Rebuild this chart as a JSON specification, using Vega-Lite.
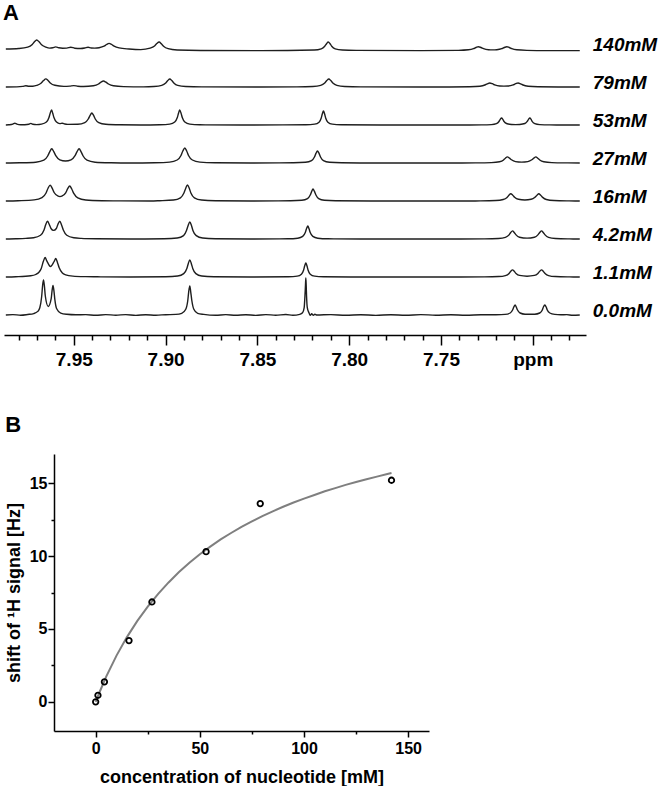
{
  "$schema": "https://vega.github.io/schema/vega-lite/v6.json",
  "background": "white",
  "padding": {"left": 3, "top": 2, "right": 0, "bottom": 0},
  "config": {
    "view": {"stroke": null},
    "font": "Liberation Sans",
    "axis": {"grid": false, "domainColor": "black", "tickColor": "black", "labelColor": "black", "titleColor": "black", "labelFont": "Liberation Sans", "titleFont": "Liberation Sans", "labelFontWeight": "bold", "titleFontWeight": "bold", "domainWidth": 1.5, "tickWidth": 1.5},
    "title": {"font": "Liberation Sans", "fontWeight": "bold", "color": "black", "anchor": "start"}
  },
  "spacing": 45,
  "datasets": {
    "spectra": [
      {"c":"0.0mM","p":7.9870,"v":0},{"c":"0.0mM","p":7.9832,"v":0.4},{"c":"0.0mM","p":7.9789,"v":-0.2},{"c":"0.0mM","p":7.9751,"v":0.5},{"c":"0.0mM","p":7.9718,"v":1.4},{"c":"0.0mM","p":7.9696,"v":3.6},{"c":"0.0mM","p":7.9685,"v":7.2},{"c":"0.0mM","p":7.9675,"v":18.2},{"c":"0.0mM","p":7.9670,"v":28.8},{"c":"0.0mM","p":7.9665,"v":35},{"c":"0.0mM","p":7.9660,"v":29.2},{"c":"0.0mM","p":7.9655,"v":19.0},{"c":"0.0mM","p":7.9639,"v":8.5},{"c":"0.0mM","p":7.9623,"v":16.3},{"c":"0.0mM","p":7.9618,"v":24.6},{"c":"0.0mM","p":7.9613,"v":29.5},{"c":"0.0mM","p":7.9608,"v":24.2},{"c":"0.0mM","p":7.9603,"v":15.4},{"c":"0.0mM","p":7.9593,"v":6.2},{"c":"0.0mM","p":7.9571,"v":1.9},{"c":"0.0mM","p":7.9538,"v":0.7},{"c":"0.0mM","p":7.9489,"v":0.2},{"c":"0.0mM","p":7.9435,"v":0.4},{"c":"0.0mM","p":7.9380,"v":-0.3},{"c":"0.0mM","p":7.9326,"v":0.4},{"c":"0.0mM","p":7.9271,"v":-0.2},{"c":"0.0mM","p":7.9217,"v":0.4},{"c":"0.0mM","p":7.9162,"v":-0.4},{"c":"0.0mM","p":7.9108,"v":0.3},{"c":"0.0mM","p":7.9053,"v":-0.2},{"c":"0.0mM","p":7.8999,"v":0.3},{"c":"0.0mM","p":7.8944,"v":0.6},{"c":"0.0mM","p":7.8912,"v":1.7},{"c":"0.0mM","p":7.8890,"v":5.8},{"c":"0.0mM","p":7.8879,"v":14.5},{"c":"0.0mM","p":7.8874,"v":23.2},{"c":"0.0mM","p":7.8868,"v":29},{"c":"0.0mM","p":7.8863,"v":23.2},{"c":"0.0mM","p":7.8857,"v":14.5},{"c":"0.0mM","p":7.8846,"v":5.8},{"c":"0.0mM","p":7.8825,"v":1.7},{"c":"0.0mM","p":7.8792,"v":0.6},{"c":"0.0mM","p":7.8727,"v":-0.3},{"c":"0.0mM","p":7.8672,"v":0.4},{"c":"0.0mM","p":7.8618,"v":-0.3},{"c":"0.0mM","p":7.8563,"v":0.3},{"c":"0.0mM","p":7.8509,"v":-0.4},{"c":"0.0mM","p":7.8454,"v":0.4},{"c":"0.0mM","p":7.8400,"v":-0.2},{"c":"0.0mM","p":7.8345,"v":0.5},{"c":"0.0mM","p":7.8307,"v":-0.3},{"c":"0.0mM","p":7.8269,"v":0.65},{"c":"0.0mM","p":7.8254,"v":2.2},{"c":"0.0mM","p":7.8245,"v":7.4},{"c":"0.0mM","p":7.8241,"v":18.5},{"c":"0.0mM","p":7.8238,"v":29.6},{"c":"0.0mM","p":7.8236,"v":37},{"c":"0.0mM","p":7.8234,"v":29.6},{"c":"0.0mM","p":7.8232,"v":18.5},{"c":"0.0mM","p":7.8228,"v":7.4},{"c":"0.0mM","p":7.8219,"v":2.2},{"c":"0.0mM","p":7.8212,"v":-0.4},{"c":"0.0mM","p":7.8204,"v":1.2},{"c":"0.0mM","p":7.8195,"v":-0.3},{"c":"0.0mM","p":7.8187,"v":0.8},{"c":"0.0mM","p":7.8176,"v":0},{"c":"0.0mM","p":7.8100,"v":0.4},{"c":"0.0mM","p":7.8018,"v":-0.3},{"c":"0.0mM","p":7.7937,"v":0.3},{"c":"0.0mM","p":7.7855,"v":-0.4},{"c":"0.0mM","p":7.7773,"v":0.3},{"c":"0.0mM","p":7.7692,"v":-0.3},{"c":"0.0mM","p":7.7610,"v":0.4},{"c":"0.0mM","p":7.7528,"v":-0.2},{"c":"0.0mM","p":7.7446,"v":0.3},{"c":"0.0mM","p":7.7365,"v":-0.3},{"c":"0.0mM","p":7.7283,"v":0.2},{"c":"0.0mM","p":7.7201,"v":0.3},{"c":"0.0mM","p":7.7151,"v":0.6},{"c":"0.0mM","p":7.7123,"v":2},{"c":"0.0mM","p":7.7110,"v":5},{"c":"0.0mM","p":7.7103,"v":8},{"c":"0.0mM","p":7.7096,"v":10},{"c":"0.0mM","p":7.7090,"v":8},{"c":"0.0mM","p":7.7083,"v":5},{"c":"0.0mM","p":7.7069,"v":2},{"c":"0.0mM","p":7.7042,"v":0.8},{"c":"0.0mM","p":7.7016,"v":0.8},{"c":"0.0mM","p":7.6989,"v":0.8},{"c":"0.0mM","p":7.6962,"v":2},{"c":"0.0mM","p":7.6948,"v":5},{"c":"0.0mM","p":7.6942,"v":8},{"c":"0.0mM","p":7.6934,"v":10},{"c":"0.0mM","p":7.6927,"v":8},{"c":"0.0mM","p":7.6921,"v":5},{"c":"0.0mM","p":7.6907,"v":2},{"c":"0.0mM","p":7.6880,"v":0.6},{"c":"0.0mM","p":7.6847,"v":0.2},{"c":"0.0mM","p":7.6815,"v":0.4},{"c":"0.0mM","p":7.6782,"v":-0.3},{"c":"0.0mM","p":7.6744,"v":0},
      {"c":"1.1mM","p":7.9870,"v":0},{"c":"1.1mM","p":7.9816,"v":0.3},{"c":"1.1mM","p":7.9734,"v":1.2},{"c":"1.1mM","p":7.9707,"v":2.5},{"c":"1.1mM","p":7.9691,"v":4.5},{"c":"1.1mM","p":7.9677,"v":8.6},{"c":"1.1mM","p":7.9666,"v":15.4},{"c":"1.1mM","p":7.9656,"v":19.5},{"c":"1.1mM","p":7.9647,"v":16.2},{"c":"1.1mM","p":7.9627,"v":10.5},{"c":"1.1mM","p":7.9607,"v":15.5},{"c":"1.1mM","p":7.9598,"v":18.6},{"c":"1.1mM","p":7.9589,"v":14.6},{"c":"1.1mM","p":7.9580,"v":9.5},{"c":"1.1mM","p":7.9562,"v":4.0},{"c":"1.1mM","p":7.9544,"v":2.2},{"c":"1.1mM","p":7.9505,"v":0.9},{"c":"1.1mM","p":7.9435,"v":0.35},{"c":"1.1mM","p":7.9353,"v":0.15},{"c":"1.1mM","p":7.9190,"v":0},{"c":"1.1mM","p":7.8999,"v":0.26},{"c":"1.1mM","p":7.8934,"v":1.0},{"c":"1.1mM","p":7.8901,"v":3.4},{"c":"1.1mM","p":7.8884,"v":8.5},{"c":"1.1mM","p":7.8876,"v":13.6},{"c":"1.1mM","p":7.8868,"v":17},{"c":"1.1mM","p":7.8860,"v":13.6},{"c":"1.1mM","p":7.8852,"v":8.5},{"c":"1.1mM","p":7.8835,"v":3.4},{"c":"1.1mM","p":7.8803,"v":1.0},{"c":"1.1mM","p":7.8737,"v":0.26},{"c":"1.1mM","p":7.8536,"v":0},{"c":"1.1mM","p":7.8331,"v":0.22},{"c":"1.1mM","p":7.8283,"v":0.82},{"c":"1.1mM","p":7.8260,"v":2.8},{"c":"1.1mM","p":7.8248,"v":7},{"c":"1.1mM","p":7.8242,"v":11.2},{"c":"1.1mM","p":7.8236,"v":14},{"c":"1.1mM","p":7.8230,"v":11.2},{"c":"1.1mM","p":7.8224,"v":7},{"c":"1.1mM","p":7.8212,"v":2.8},{"c":"1.1mM","p":7.8188,"v":0.82},{"c":"1.1mM","p":7.8140,"v":0.22},{"c":"1.1mM","p":7.7991,"v":0},{"c":"1.1mM","p":7.7392,"v":0},{"c":"1.1mM","p":7.7263,"v":0.1},{"c":"1.1mM","p":7.7187,"v":0.45},{"c":"1.1mM","p":7.7149,"v":1.45},{"c":"1.1mM","p":7.7129,"v":3.6},{"c":"1.1mM","p":7.7120,"v":5.7},{"c":"1.1mM","p":7.7110,"v":7.1},{"c":"1.1mM","p":7.7101,"v":5.7},{"c":"1.1mM","p":7.7091,"v":3.6},{"c":"1.1mM","p":7.7072,"v":1.6},{"c":"1.1mM","p":7.7031,"v":0.8},{"c":"1.1mM","p":7.6991,"v":1.6},{"c":"1.1mM","p":7.6972,"v":3.6},{"c":"1.1mM","p":7.6962,"v":5.7},{"c":"1.1mM","p":7.6952,"v":7.1},{"c":"1.1mM","p":7.6943,"v":5.7},{"c":"1.1mM","p":7.6933,"v":3.6},{"c":"1.1mM","p":7.6914,"v":1.45},{"c":"1.1mM","p":7.6876,"v":0.45},{"c":"1.1mM","p":7.6800,"v":0.1},{"c":"1.1mM","p":7.6744,"v":0},
      {"c":"4.2mM","p":7.9870,"v":0},{"c":"4.2mM","p":7.9816,"v":0.2},{"c":"4.2mM","p":7.9761,"v":0.6},{"c":"4.2mM","p":7.9719,"v":1.26},{"c":"4.2mM","p":7.9681,"v":3.8},{"c":"4.2mM","p":7.9662,"v":9.0},{"c":"4.2mM","p":7.9653,"v":14.2},{"c":"4.2mM","p":7.9643,"v":17.7},{"c":"4.2mM","p":7.9634,"v":14.8},{"c":"4.2mM","p":7.9624,"v":10.5},{"c":"4.2mM","p":7.9610,"v":8.6},{"c":"4.2mM","p":7.9595,"v":10.5},{"c":"4.2mM","p":7.9586,"v":14.8},{"c":"4.2mM","p":7.9576,"v":17.7},{"c":"4.2mM","p":7.9567,"v":14.2},{"c":"4.2mM","p":7.9557,"v":9.0},{"c":"4.2mM","p":7.9538,"v":3.8},{"c":"4.2mM","p":7.9500,"v":1.26},{"c":"4.2mM","p":7.9460,"v":0.6},{"c":"4.2mM","p":7.9380,"v":0.2},{"c":"4.2mM","p":7.9190,"v":0},{"c":"4.2mM","p":7.9007,"v":0.26},{"c":"4.2mM","p":7.8937,"v":1.0},{"c":"4.2mM","p":7.8902,"v":3.4},{"c":"4.2mM","p":7.8886,"v":8.5},{"c":"4.2mM","p":7.8877,"v":13.6},{"c":"4.2mM","p":7.8868,"v":17},{"c":"4.2mM","p":7.8859,"v":13.6},{"c":"4.2mM","p":7.8851,"v":8.5},{"c":"4.2mM","p":7.8833,"v":3.4},{"c":"4.2mM","p":7.8798,"v":1.0},{"c":"4.2mM","p":7.8729,"v":0.26},{"c":"4.2mM","p":7.8536,"v":0},{"c":"4.2mM","p":7.8334,"v":0.2},{"c":"4.2mM","p":7.8280,"v":0.77},{"c":"4.2mM","p":7.8253,"v":2.6},{"c":"4.2mM","p":7.8239,"v":6.5},{"c":"4.2mM","p":7.8232,"v":10.4},{"c":"4.2mM","p":7.8225,"v":13},{"c":"4.2mM","p":7.8219,"v":10.4},{"c":"4.2mM","p":7.8212,"v":6.5},{"c":"4.2mM","p":7.8198,"v":2.6},{"c":"4.2mM","p":7.8171,"v":0.77},{"c":"4.2mM","p":7.8116,"v":0.2},{"c":"4.2mM","p":7.7937,"v":0},{"c":"4.2mM","p":7.7392,"v":0},{"c":"4.2mM","p":7.7263,"v":0.1},{"c":"4.2mM","p":7.7187,"v":0.5},{"c":"4.2mM","p":7.7149,"v":1.65},{"c":"4.2mM","p":7.7129,"v":4.1},{"c":"4.2mM","p":7.7120,"v":6.5},{"c":"4.2mM","p":7.7110,"v":8.1},{"c":"4.2mM","p":7.7101,"v":6.5},{"c":"4.2mM","p":7.7091,"v":4.1},{"c":"4.2mM","p":7.7072,"v":1.8},{"c":"4.2mM","p":7.7031,"v":0.9},{"c":"4.2mM","p":7.6991,"v":1.8},{"c":"4.2mM","p":7.6972,"v":4.1},{"c":"4.2mM","p":7.6962,"v":6.5},{"c":"4.2mM","p":7.6952,"v":8.1},{"c":"4.2mM","p":7.6943,"v":6.5},{"c":"4.2mM","p":7.6933,"v":4.1},{"c":"4.2mM","p":7.6914,"v":1.65},{"c":"4.2mM","p":7.6876,"v":0.5},{"c":"4.2mM","p":7.6800,"v":0.1},{"c":"4.2mM","p":7.6744,"v":0},
      {"c":"16mM","p":7.9870,"v":0},{"c":"16mM","p":7.9803,"v":0.3},{"c":"16mM","p":7.9716,"v":1.1},{"c":"16mM","p":7.9673,"v":3.35},{"c":"16mM","p":7.9651,"v":8.05},{"c":"16mM","p":7.9640,"v":12.7},{"c":"16mM","p":7.9629,"v":15.9},{"c":"16mM","p":7.9618,"v":12.9},{"c":"16mM","p":7.9607,"v":8.5},{"c":"16mM","p":7.9585,"v":4.8},{"c":"16mM","p":7.9575,"v":4.4},{"c":"16mM","p":7.9565,"v":4.8},{"c":"16mM","p":7.9544,"v":8.1},{"c":"16mM","p":7.9533,"v":12.3},{"c":"16mM","p":7.9522,"v":15.0},{"c":"16mM","p":7.9511,"v":12.0},{"c":"16mM","p":7.9500,"v":7.6},{"c":"16mM","p":7.9478,"v":3.2},{"c":"16mM","p":7.9435,"v":1.04},{"c":"16mM","p":7.9347,"v":0.3},{"c":"16mM","p":7.9244,"v":0.1},{"c":"16mM","p":7.9081,"v":0},{"c":"16mM","p":7.9033,"v":0.25},{"c":"16mM","p":7.8957,"v":0.94},{"c":"16mM","p":7.8919,"v":3.2},{"c":"16mM","p":7.8900,"v":8},{"c":"16mM","p":7.8890,"v":12.8},{"c":"16mM","p":7.8881,"v":16},{"c":"16mM","p":7.8871,"v":12.8},{"c":"16mM","p":7.8862,"v":8},{"c":"16mM","p":7.8843,"v":3.2},{"c":"16mM","p":7.8804,"v":0.94},{"c":"16mM","p":7.8728,"v":0.25},{"c":"16mM","p":7.8536,"v":0},{"c":"16mM","p":7.8319,"v":0.18},{"c":"16mM","p":7.8258,"v":0.7},{"c":"16mM","p":7.8227,"v":2.4},{"c":"16mM","p":7.8212,"v":6},{"c":"16mM","p":7.8204,"v":9.6},{"c":"16mM","p":7.8197,"v":12},{"c":"16mM","p":7.8189,"v":9.6},{"c":"16mM","p":7.8181,"v":6},{"c":"16mM","p":7.8166,"v":2.4},{"c":"16mM","p":7.8135,"v":0.7},{"c":"16mM","p":7.8074,"v":0.18},{"c":"16mM","p":7.7882,"v":0},{"c":"16mM","p":7.7392,"v":0},{"c":"16mM","p":7.7285,"v":0.1},{"c":"16mM","p":7.7202,"v":0.45},{"c":"16mM","p":7.7161,"v":1.5},{"c":"16mM","p":7.7140,"v":3.6},{"c":"16mM","p":7.7130,"v":5.7},{"c":"16mM","p":7.7120,"v":7.2},{"c":"16mM","p":7.7109,"v":5.8},{"c":"16mM","p":7.7099,"v":3.8},{"c":"16mM","p":7.7078,"v":1.7},{"c":"16mM","p":7.7043,"v":1.0},{"c":"16mM","p":7.7009,"v":1.7},{"c":"16mM","p":7.6988,"v":3.8},{"c":"16mM","p":7.6977,"v":5.8},{"c":"16mM","p":7.6967,"v":7.2},{"c":"16mM","p":7.6957,"v":5.7},{"c":"16mM","p":7.6946,"v":3.6},{"c":"16mM","p":7.6926,"v":1.5},{"c":"16mM","p":7.6884,"v":0.45},{"c":"16mM","p":7.6802,"v":0.1},{"c":"16mM","p":7.6744,"v":0},
      {"c":"27mM","p":7.9870,"v":0},{"c":"27mM","p":7.9794,"v":0.21},{"c":"27mM","p":7.9707,"v":0.82},{"c":"27mM","p":7.9663,"v":2.8},{"c":"27mM","p":7.9642,"v":7},{"c":"27mM","p":7.9631,"v":11.2},{"c":"27mM","p":7.9620,"v":14.2},{"c":"27mM","p":7.9609,"v":11.4},{"c":"27mM","p":7.9598,"v":7.3},{"c":"27mM","p":7.9576,"v":3.2},{"c":"27mM","p":7.9545,"v":2.0},{"c":"27mM","p":7.9515,"v":3.2},{"c":"27mM","p":7.9493,"v":7.3},{"c":"27mM","p":7.9482,"v":11.4},{"c":"27mM","p":7.9471,"v":14.2},{"c":"27mM","p":7.9460,"v":11.2},{"c":"27mM","p":7.9449,"v":7},{"c":"27mM","p":7.9428,"v":2.8},{"c":"27mM","p":7.9384,"v":0.82},{"c":"27mM","p":7.9297,"v":0.21},{"c":"27mM","p":7.9190,"v":0},{"c":"27mM","p":7.9061,"v":0.23},{"c":"27mM","p":7.8978,"v":0.88},{"c":"27mM","p":7.8937,"v":3},{"c":"27mM","p":7.8916,"v":7.5},{"c":"27mM","p":7.8906,"v":12},{"c":"27mM","p":7.8895,"v":15},{"c":"27mM","p":7.8885,"v":12},{"c":"27mM","p":7.8875,"v":7.5},{"c":"27mM","p":7.8854,"v":3},{"c":"27mM","p":7.8813,"v":0.88},{"c":"27mM","p":7.8730,"v":0.23},{"c":"27mM","p":7.8536,"v":0},{"c":"27mM","p":7.8303,"v":0.18},{"c":"27mM","p":7.8238,"v":0.7},{"c":"27mM","p":7.8205,"v":2.4},{"c":"27mM","p":7.8189,"v":6},{"c":"27mM","p":7.8181,"v":9.6},{"c":"27mM","p":7.8173,"v":12},{"c":"27mM","p":7.8164,"v":9.6},{"c":"27mM","p":7.8156,"v":6},{"c":"27mM","p":7.8140,"v":2.4},{"c":"27mM","p":7.8107,"v":0.7},{"c":"27mM","p":7.8042,"v":0.18},{"c":"27mM","p":7.7882,"v":0},{"c":"27mM","p":7.7446,"v":0},{"c":"27mM","p":7.7312,"v":0.09},{"c":"27mM","p":7.7225,"v":0.35},{"c":"27mM","p":7.7181,"v":1.2},{"c":"27mM","p":7.7159,"v":3.0},{"c":"27mM","p":7.7149,"v":4.8},{"c":"27mM","p":7.7138,"v":6.1},{"c":"27mM","p":7.7127,"v":4.9},{"c":"27mM","p":7.7116,"v":3.2},{"c":"27mM","p":7.7094,"v":1.4},{"c":"27mM","p":7.7061,"v":0.9},{"c":"27mM","p":7.7027,"v":1.4},{"c":"27mM","p":7.7005,"v":3.2},{"c":"27mM","p":7.6994,"v":4.9},{"c":"27mM","p":7.6983,"v":6.1},{"c":"27mM","p":7.6973,"v":4.8},{"c":"27mM","p":7.6962,"v":3.0},{"c":"27mM","p":7.6940,"v":1.2},{"c":"27mM","p":7.6896,"v":0.35},{"c":"27mM","p":7.6809,"v":0.09},{"c":"27mM","p":7.6744,"v":0},
      {"c":"53mM","p":7.9870,"v":0},{"c":"53mM","p":7.9854,"v":0.2},{"c":"53mM","p":7.9832,"v":0.9},{"c":"53mM","p":7.9821,"v":1.8},{"c":"53mM","p":7.9810,"v":0.9},{"c":"53mM","p":7.9789,"v":0.2},{"c":"53mM","p":7.9767,"v":0.3},{"c":"53mM","p":7.9745,"v":0.8},{"c":"53mM","p":7.9734,"v":1.6},{"c":"53mM","p":7.9723,"v":0.8},{"c":"53mM","p":7.9702,"v":0.4},{"c":"53mM","p":7.9676,"v":0.9},{"c":"53mM","p":7.9649,"v":3},{"c":"53mM","p":7.9635,"v":7.5},{"c":"53mM","p":7.9628,"v":12},{"c":"53mM","p":7.9621,"v":15},{"c":"53mM","p":7.9615,"v":12},{"c":"53mM","p":7.9608,"v":7.5},{"c":"53mM","p":7.9594,"v":3},{"c":"53mM","p":7.9576,"v":1.4},{"c":"53mM","p":7.9562,"v":1.8},{"c":"53mM","p":7.9549,"v":1.0},{"c":"53mM","p":7.9533,"v":0.6},{"c":"53mM","p":7.9478,"v":0.71},{"c":"53mM","p":7.9440,"v":2.4},{"c":"53mM","p":7.9421,"v":6},{"c":"53mM","p":7.9411,"v":9.6},{"c":"53mM","p":7.9402,"v":12},{"c":"53mM","p":7.9392,"v":9.6},{"c":"53mM","p":7.9383,"v":6},{"c":"53mM","p":7.9364,"v":2.4},{"c":"53mM","p":7.9326,"v":0.71},{"c":"53mM","p":7.9249,"v":0.18},{"c":"53mM","p":7.9135,"v":0},{"c":"53mM","p":7.9032,"v":0.23},{"c":"53mM","p":7.8977,"v":0.88},{"c":"53mM","p":7.8950,"v":3},{"c":"53mM","p":7.8936,"v":7.5},{"c":"53mM","p":7.8929,"v":12},{"c":"53mM","p":7.8923,"v":15},{"c":"53mM","p":7.8916,"v":12},{"c":"53mM","p":7.8909,"v":7.5},{"c":"53mM","p":7.8895,"v":3},{"c":"53mM","p":7.8868,"v":0.88},{"c":"53mM","p":7.8814,"v":0.23},{"c":"53mM","p":7.8590,"v":0},{"c":"53mM","p":7.8236,"v":0.21},{"c":"53mM","p":7.8188,"v":0.82},{"c":"53mM","p":7.8164,"v":2.8},{"c":"53mM","p":7.8152,"v":7},{"c":"53mM","p":7.8146,"v":11.2},{"c":"53mM","p":7.8140,"v":14},{"c":"53mM","p":7.8134,"v":11.2},{"c":"53mM","p":7.8128,"v":7},{"c":"53mM","p":7.8116,"v":2.8},{"c":"53mM","p":7.8092,"v":0.82},{"c":"53mM","p":7.8044,"v":0.21},{"c":"53mM","p":7.7828,"v":0},{"c":"53mM","p":7.7392,"v":0},{"c":"53mM","p":7.7279,"v":0.1},{"c":"53mM","p":7.7225,"v":0.41},{"c":"53mM","p":7.7198,"v":1.4},{"c":"53mM","p":7.7184,"v":3.5},{"c":"53mM","p":7.7177,"v":5.6},{"c":"53mM","p":7.7170,"v":7.05},{"c":"53mM","p":7.7163,"v":5.65},{"c":"53mM","p":7.7157,"v":3.6},{"c":"53mM","p":7.7143,"v":1.5},{"c":"53mM","p":7.7116,"v":0.55},{"c":"53mM","p":7.7093,"v":0.4},{"c":"53mM","p":7.7071,"v":0.55},{"c":"53mM","p":7.7043,"v":1.5},{"c":"53mM","p":7.7030,"v":3.6},{"c":"53mM","p":7.7023,"v":5.65},{"c":"53mM","p":7.7016,"v":7.05},{"c":"53mM","p":7.7009,"v":5.6},{"c":"53mM","p":7.7003,"v":3.5},{"c":"53mM","p":7.6989,"v":1.4},{"c":"53mM","p":7.6962,"v":0.41},{"c":"53mM","p":7.6907,"v":0.1},{"c":"53mM","p":7.6744,"v":0},
      {"c":"79mM","p":7.9870,"v":0},{"c":"79mM","p":7.9810,"v":0.13},{"c":"79mM","p":7.9778,"v":0.65},{"c":"79mM","p":7.9761,"v":1.3},{"c":"79mM","p":7.9745,"v":0.7},{"c":"79mM","p":7.9723,"v":0.8},{"c":"79mM","p":7.9702,"v":1.6},{"c":"79mM","p":7.9677,"v":4},{"c":"79mM","p":7.9665,"v":6.4},{"c":"79mM","p":7.9652,"v":8.1},{"c":"79mM","p":7.9640,"v":6.5},{"c":"79mM","p":7.9628,"v":4.1},{"c":"79mM","p":7.9603,"v":1.7},{"c":"79mM","p":7.9554,"v":0.6},{"c":"79mM","p":7.9522,"v":0.9},{"c":"79mM","p":7.9500,"v":1.4},{"c":"79mM","p":7.9478,"v":0.8},{"c":"79mM","p":7.9447,"v":0.5},{"c":"79mM","p":7.9393,"v":1.2},{"c":"79mM","p":7.9365,"v":3},{"c":"79mM","p":7.9352,"v":4.8},{"c":"79mM","p":7.9338,"v":6},{"c":"79mM","p":7.9325,"v":4.8},{"c":"79mM","p":7.9311,"v":3},{"c":"79mM","p":7.9284,"v":1.2},{"c":"79mM","p":7.9229,"v":0.35},{"c":"79mM","p":7.9120,"v":0.1},{"c":"79mM","p":7.9064,"v":0.47},{"c":"79mM","p":7.9021,"v":1.6},{"c":"79mM","p":7.8999,"v":4},{"c":"79mM","p":7.8988,"v":6.4},{"c":"79mM","p":7.8977,"v":8},{"c":"79mM","p":7.8966,"v":6.4},{"c":"79mM","p":7.8955,"v":4},{"c":"79mM","p":7.8934,"v":1.6},{"c":"79mM","p":7.8890,"v":0.47},{"c":"79mM","p":7.8803,"v":0.12},{"c":"79mM","p":7.8481,"v":0},{"c":"79mM","p":7.8285,"v":0.12},{"c":"79mM","p":7.8198,"v":0.47},{"c":"79mM","p":7.8155,"v":1.6},{"c":"79mM","p":7.8133,"v":4},{"c":"79mM","p":7.8122,"v":6.4},{"c":"79mM","p":7.8111,"v":8},{"c":"79mM","p":7.8100,"v":6.4},{"c":"79mM","p":7.8089,"v":4},{"c":"79mM","p":7.8067,"v":1.6},{"c":"79mM","p":7.8024,"v":0.47},{"c":"79mM","p":7.7937,"v":0.12},{"c":"79mM","p":7.7610,"v":0},{"c":"79mM","p":7.7452,"v":0.06},{"c":"79mM","p":7.7343,"v":0.24},{"c":"79mM","p":7.7288,"v":0.8},{"c":"79mM","p":7.7261,"v":2.0},{"c":"79mM","p":7.7248,"v":3.2},{"c":"79mM","p":7.7234,"v":4.07},{"c":"79mM","p":7.7220,"v":3.3},{"c":"79mM","p":7.7207,"v":2.1},{"c":"79mM","p":7.7180,"v":1.0},{"c":"79mM","p":7.7157,"v":0.9},{"c":"79mM","p":7.7134,"v":1.0},{"c":"79mM","p":7.7107,"v":2.1},{"c":"79mM","p":7.7093,"v":3.3},{"c":"79mM","p":7.7080,"v":4.07},{"c":"79mM","p":7.7066,"v":3.2},{"c":"79mM","p":7.7053,"v":2.0},{"c":"79mM","p":7.7025,"v":0.8},{"c":"79mM","p":7.6971,"v":0.24},{"c":"79mM","p":7.6862,"v":0.06},{"c":"79mM","p":7.6744,"v":0},
      {"c":"140mM","p":7.9870,"v":0},{"c":"140mM","p":7.9800,"v":0.5},{"c":"140mM","p":7.9751,"v":1.8},{"c":"140mM","p":7.9726,"v":4.5},{"c":"140mM","p":7.9714,"v":7.2},{"c":"140mM","p":7.9702,"v":9},{"c":"140mM","p":7.9689,"v":7.2},{"c":"140mM","p":7.9677,"v":4.5},{"c":"140mM","p":7.9652,"v":1.9},{"c":"140mM","p":7.9631,"v":0.9},{"c":"140mM","p":7.9614,"v":1.3},{"c":"140mM","p":7.9598,"v":2.1},{"c":"140mM","p":7.9582,"v":1.2},{"c":"140mM","p":7.9560,"v":0.8},{"c":"140mM","p":7.9538,"v":0.9},{"c":"140mM","p":7.9516,"v":1.8},{"c":"140mM","p":7.9495,"v":0.8},{"c":"140mM","p":7.9462,"v":0.5},{"c":"140mM","p":7.9440,"v":1.0},{"c":"140mM","p":7.9422,"v":1.8},{"c":"140mM","p":7.9405,"v":1.0},{"c":"140mM","p":7.9386,"v":0.9},{"c":"140mM","p":7.9362,"v":1.3},{"c":"140mM","p":7.9335,"v":2.8},{"c":"140mM","p":7.9321,"v":4.5},{"c":"140mM","p":7.9308,"v":5.6},{"c":"140mM","p":7.9294,"v":4.5},{"c":"140mM","p":7.9280,"v":2.8},{"c":"140mM","p":7.9253,"v":1.1},{"c":"140mM","p":7.9199,"v":0},{"c":"140mM","p":7.9135,"v":-0.6},{"c":"140mM","p":7.9084,"v":0.8},{"c":"140mM","p":7.9060,"v":3.0},{"c":"140mM","p":7.9048,"v":5.4},{"c":"140mM","p":7.9035,"v":7.0},{"c":"140mM","p":7.9023,"v":5.2},{"c":"140mM","p":7.9011,"v":2.8},{"c":"140mM","p":7.8986,"v":0.3},{"c":"140mM","p":7.8937,"v":-1.0},{"c":"140mM","p":7.8808,"v":-1.5},{"c":"140mM","p":7.8481,"v":-1.6},{"c":"140mM","p":7.8190,"v":-1.0},{"c":"140mM","p":7.8152,"v":0.2},{"c":"140mM","p":7.8133,"v":2.75},{"c":"140mM","p":7.8123,"v":5.3},{"c":"140mM","p":7.8114,"v":7.0},{"c":"140mM","p":7.8104,"v":5.3},{"c":"140mM","p":7.8095,"v":2.75},{"c":"140mM","p":7.8076,"v":0.2},{"c":"140mM","p":7.8037,"v":-1.0},{"c":"140mM","p":7.7961,"v":-1.35},{"c":"140mM","p":7.7610,"v":-1.6},{"c":"140mM","p":7.7405,"v":-1.35},{"c":"140mM","p":7.7350,"v":-0.8},{"c":"140mM","p":7.7323,"v":0.3},{"c":"140mM","p":7.7309,"v":1.5},{"c":"140mM","p":7.7296,"v":2.3},{"c":"140mM","p":7.7282,"v":1.5},{"c":"140mM","p":7.7268,"v":0.35},{"c":"140mM","p":7.7241,"v":-0.7},{"c":"140mM","p":7.7218,"v":-0.9},{"c":"140mM","p":7.7196,"v":-0.7},{"c":"140mM","p":7.7169,"v":0.35},{"c":"140mM","p":7.7155,"v":1.5},{"c":"140mM","p":7.7141,"v":2.3},{"c":"140mM","p":7.7128,"v":1.5},{"c":"140mM","p":7.7114,"v":0.3},{"c":"140mM","p":7.7087,"v":-0.8},{"c":"140mM","p":7.7032,"v":-1.35},{"c":"140mM","p":7.6924,"v":-1.6},{"c":"140mM","p":7.6744,"v":-1.6}
    ],
    "fit": [
      {"conc":0,"shift":0},{"conc":2,"shift":0.71},{"conc":5,"shift":1.71},{"conc":10,"shift":3.17},{"conc":15,"shift":4.44},{"conc":20,"shift":5.55},{"conc":25,"shift":6.53},{"conc":30,"shift":7.41},{"conc":35,"shift":8.19},{"conc":40,"shift":8.9},{"conc":45,"shift":9.54},{"conc":50,"shift":10.12},{"conc":55,"shift":10.65},{"conc":60,"shift":11.14},{"conc":65,"shift":11.58},{"conc":70,"shift":12.0},{"conc":75,"shift":12.38},{"conc":80,"shift":12.74},{"conc":85,"shift":13.07},{"conc":90,"shift":13.38},{"conc":95,"shift":13.67},{"conc":100,"shift":13.94},{"conc":105,"shift":14.19},{"conc":110,"shift":14.44},{"conc":115,"shift":14.66},{"conc":120,"shift":14.88},{"conc":125,"shift":15.08},{"conc":130,"shift":15.27},{"conc":135,"shift":15.45},{"conc":140,"shift":15.63},{"conc":142,"shift":15.69}
    ],
    "obs": [
      {"conc":0,"shift":0},{"conc":1.1,"shift":0.45},{"conc":4.2,"shift":1.37},{"conc":16,"shift":4.2},{"conc":27,"shift":6.85},{"conc":53,"shift":10.3},{"conc":79,"shift":13.6},{"conc":142,"shift":15.2}
    ]
  },
  "vconcat": [
    {
      "data": {"name": "spectra"},
      "title": {"text": "A", "fontSize": 22, "offset": -14},
      "bounds": "flush",
      "facet": {
        "row": {
          "field": "c", "type": "nominal",
          "sort": ["140mM", "79mM", "53mM", "27mM", "16mM", "4.2mM", "1.1mM", "0.0mM"],
          "title": null,
          "header": {"labels": false, "title": null}
        }
      },
      "spacing": {"row": 0},
      "spec": {
        "width": 582,
        "height": 38,
        "encoding": {
          "x": {
            "field": "p", "type": "quantitative",
            "scale": {"domain": [7.671, 7.988], "reverse": true, "nice": false, "zero": false},
            "axis": {
              "title": null, "offset": 20,
              "values": [7.68,7.69,7.7,7.71,7.72,7.73,7.74,7.75,7.76,7.77,7.78,7.79,7.8,7.81,7.82,7.83,7.84,7.85,7.86,7.87,7.88,7.89,7.9,7.91,7.92,7.93,7.94,7.95,7.96,7.97,7.98],
              "labelExpr": "round(datum.value*100) % 5 == 0 ? (round(datum.value*100) == 770 ? 'ppm' : format(datum.value, '.2f')) : ''",
              "tickSize": {"condition": {"test": "round(datum.value*100) % 5 == 0", "value": 10}, "value": 5},
              "labelOverlap": false,
              "labelFontSize": 19,
              "labelPadding": 5
            }
          },
          "y": {"field": "v", "type": "quantitative", "scale": {"domain": [0, 38], "nice": false, "zero": false}, "axis": null}
        },
        "layer": [
          {"mark": {"type": "line", "color": "#1e1e1e", "strokeWidth": 1.4, "interpolate": "monotone", "clip": false}},
          {
            "transform": [{"filter": {"field": "p", "equal": 7.6744}}],
            "mark": {"type": "text", "align": "left", "baseline": "alphabetic", "dx": 13, "dy": 2, "font": "Liberation Sans", "fontSize": 19, "fontWeight": "bold", "fontStyle": "italic", "color": "black", "clip": false},
            "encoding": {"text": {"field": "c"}, "y": {"datum": 0}}
          }
        ]
      }
    },
    {
      "spacing": 0,
      "hconcat": [
        {
          "width": 1,
          "height": 277,
          "data": {"values": [{}]},
          "mark": {"type": "point", "opacity": 0, "size": 0},
          "encoding": {}
        },
        {
          "title": {"text": "B", "fontSize": 22, "offset": 17},
          "width": 375,
          "height": 277,
          "encoding": {
            "x": {
              "field": "conc", "type": "quantitative",
              "scale": {"domain": [-20, 160], "nice": false, "zero": false},
              "axis": {
                "title": "concentration of nucleotide [mM]", "titleFontSize": 18, "titlePadding": 12,
                "values": [0, 25, 50, 75, 100, 125, 150],
                "labelExpr": "datum.value % 50 == 0 ? datum.label : ''",
                "tickSize": {"condition": {"test": "datum.value % 50 == 0", "value": 6}, "value": 3},
                "labelFontSize": 16, "labelPadding": 3, "labelOverlap": false
              }
            },
            "y": {
              "field": "shift", "type": "quantitative",
              "scale": {"domain": [-2, 17], "nice": false, "zero": false},
              "axis": {
                "title": "shift of ¹H signal [Hz]", "titleFontSize": 18, "titlePadding": 6,
                "values": [0, 2.5, 5, 7.5, 10, 12.5, 15],
                "labelExpr": "datum.value % 5 == 0 ? datum.label : ''",
                "tickSize": {"condition": {"test": "datum.value % 5 == 0", "value": 6}, "value": 3},
                "labelFontSize": 16, "labelPadding": 1, "labelOverlap": false
              }
            }
          },
          "layer": [
            {"data": {"name": "fit"}, "mark": {"type": "line", "color": "#7f7f7f", "strokeWidth": 2}},
            {"data": {"name": "obs"}, "mark": {"type": "point", "shape": "circle", "filled": false, "color": "black", "strokeWidth": 1.8, "size": 30, "opacity": 1}}
          ]
        }
      ]
    }
  ]
}
